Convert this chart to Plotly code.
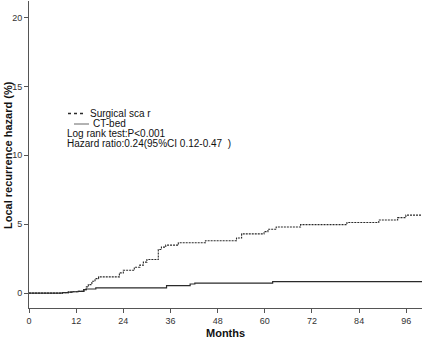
import plotly.graph_objects as go

# ---- data ----
surg_months = [0, 8.5, 10, 11, 12.5, 13.9, 14.6, 15.1, 16.0, 16.8, 17.7, 23.0, 24.0,
               26.8, 28.2, 29.1, 30.0, 32.9, 33.7, 34.8, 38.0, 44.9, 52.8, 54.1,
               59.8, 60.8, 62.9, 69.1, 80.9, 89.0, 93.8, 95.9, 100]
surg_hazard = [0, 0.03, 0.07, 0.10, 0.13, 0.25, 0.45, 0.62, 0.86, 1.05, 1.18, 1.47, 1.66,
               1.88, 2.03, 2.25, 2.44, 3.17, 3.34, 3.48, 3.65, 3.80, 4.00, 4.30,
               4.46, 4.63, 4.80, 4.97, 5.13, 5.31, 5.48, 5.66, 5.66]

ct_months = [0, 8.5, 10, 11, 12.5, 14.0, 14.5, 17.0, 35.0, 41.0, 42.2, 62.0, 100]
ct_hazard = [0, 0.03, 0.07, 0.10, 0.13, 0.25, 0.30, 0.38, 0.55, 0.66, 0.72, 0.83, 0.83]

x_ticks = [0, 12, 24, 36, 48, 60, 72, 84, 96]
y_ticks = [0, 5, 10, 15, 20]

legend_names = ["Surgical sca r", "CT-bed"]
stat_lines = ["Log rank test:P<0.001", "Hazard ratio:0.24(95%CI 0.12-0.47\u00a0\u00a0)"]

FONT = "Liberation Sans, Arial, sans-serif"
LINE = "#2a2a2a"

fig = go.Figure()
fig.add_trace(go.Scatter(x=surg_months, y=surg_hazard, mode="lines", line_shape="hv",
                         line=dict(color=LINE, width=1.1, dash="2px,1px"),
                         name=legend_names[0], showlegend=False))
fig.add_trace(go.Scatter(x=ct_months, y=ct_hazard, mode="lines", line_shape="hv",
                         line=dict(color=LINE, width=1.2),
                         name=legend_names[1], showlegend=False))

W, H = 425, 342
L, R, T, B = 29, 3, 1, 34
pw, ph = W - L - R, H - T - B

def px(x):
    return (x - L) / pw

def py(y):
    return (H - B - y) / ph

# legend keys
fig.add_shape(type="line", xref="paper", yref="paper", x0=px(68), x1=px(86), y0=py(113.5), y1=py(113.5),
              line=dict(color=LINE, width=1.3, dash="3px,3px"))
fig.add_shape(type="line", xref="paper", yref="paper", x0=px(74), x1=px(89), y0=py(124), y1=py(124),
              line=dict(color="#666", width=1))

texts = [(89, 113.5, legend_names[0]), (92, 124, legend_names[1]),
         (66, 133.5, stat_lines[0]), (66, 143.5, stat_lines[1])]
for x, y, t in texts:
    fig.add_annotation(xref="paper", yref="paper", x=px(x), y=py(y), text=t, showarrow=False,
                       xanchor="left", yanchor="middle", borderpad=0,
                       font=dict(family=FONT, size=10, color="#111"))

# axis titles
fig.add_annotation(xref="paper", yref="paper", x=px(225), y=py(333), text="<b>Months</b>",
                   showarrow=False, xanchor="center", yanchor="middle",
                   font=dict(family=FONT, size=11, color="#111"))
fig.add_annotation(xref="paper", yref="paper", x=px(8), y=py(155), text="<b>Local recurrence hazard (%)</b>",
                   showarrow=False, textangle=-90, xanchor="center", yanchor="middle",
                   font=dict(family=FONT, size=11, color="#111"))

fig.update_layout(
    width=W, height=H, margin=dict(l=L, r=R, t=T, b=B, autoexpand=False),
    paper_bgcolor="white", plot_bgcolor="white", showlegend=False,
    font=dict(family=FONT, color="#222"),
)
fig.update_xaxes(range=[0, 100], tickvals=x_ticks, ticktext=[str(v) for v in x_ticks],
                 showgrid=False, zeroline=False, showline=True, linecolor="#555", linewidth=1,
                 ticks="outside", ticklen=4, tickcolor="#555", tickfont=dict(size=9, color="#333"),
                 automargin=False)
fig.update_yaxes(range=[-1.08, 21.2], tickvals=y_ticks, ticktext=[str(v) for v in y_ticks],
                 showgrid=False, zeroline=False, showline=True, linecolor="#555", linewidth=1,
                 ticks="outside", ticklen=4, tickcolor="#555", tickfont=dict(size=9, color="#333"),
                 automargin=False)

fig.write_html("out.html", config={"displayModeBar": False},
               post_script="document.body.style.margin='0';")
